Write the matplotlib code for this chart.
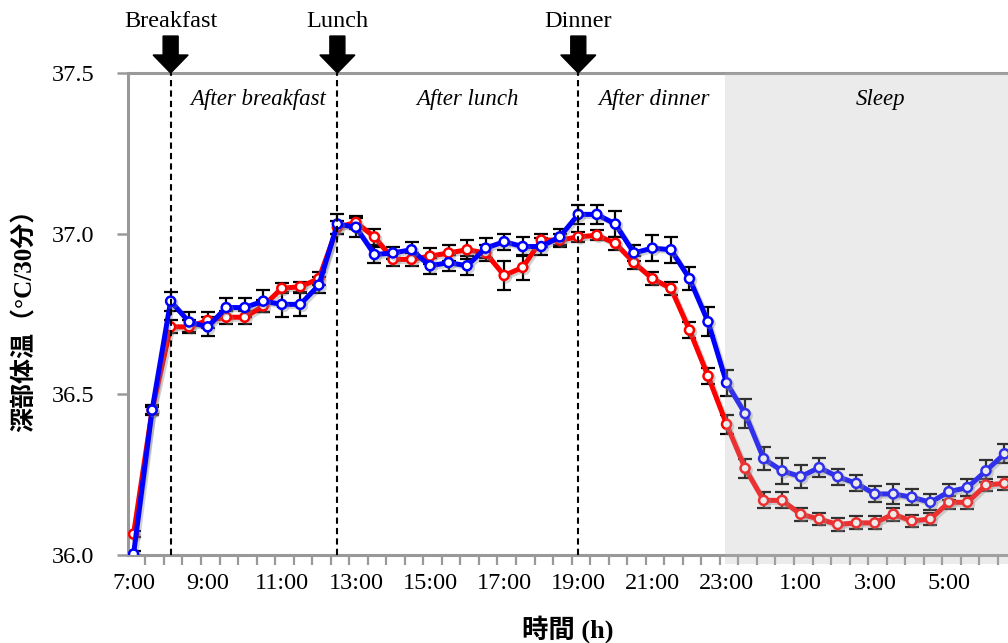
import matplotlib
matplotlib.use('Agg')
from matplotlib import pyplot as plt
from matplotlib import patheffects as pe
from matplotlib.patches import Rectangle
import numpy as np

# 30分ごとの深部体温 (7:00 - 6:30)
red_temp = [36.065, 36.45, 36.71, 36.71, 36.73, 36.74, 36.74, 36.775, 36.83, 36.835,
            36.86, 37.02, 37.035, 36.99, 36.92, 36.92, 36.93, 36.94, 36.95, 36.94,
            36.87, 36.895, 36.98, 36.98, 36.99, 36.995, 36.97, 36.91, 36.86, 36.83,
            36.70, 36.557, 36.407, 36.27, 36.17, 36.17, 36.127, 36.112, 36.095, 36.10,
            36.10, 36.127, 36.106, 36.112, 36.164, 36.164, 36.218, 36.223]
red_err = [0.01, 0.01, 0.02, 0.02, 0.025, 0.02, 0.02, 0.02, 0.015, 0.015,
           0.02, 0.02, 0.02, 0.025, 0.02, 0.02, 0.025, 0.025, 0.03, 0.025,
           0.045, 0.04, 0.02, 0.02, 0.015, 0.015, 0.02, 0.02, 0.02, 0.02,
           0.025, 0.025, 0.03, 0.03, 0.025, 0.025, 0.02, 0.02, 0.02, 0.02,
           0.02, 0.02, 0.02, 0.02, 0.02, 0.02, 0.02, 0.02]

blue_temp = [36.003, 36.451, 36.79, 36.725, 36.71, 36.77, 36.77, 36.79, 36.78, 36.78,
             36.84, 37.03, 37.02, 36.935, 36.94, 36.95, 36.90, 36.91, 36.90, 36.955,
             36.975, 36.96, 36.96, 36.99, 37.06, 37.06, 37.03, 36.94, 36.955, 36.95,
             36.86, 36.726, 36.536, 36.44, 36.30, 36.262, 36.244, 36.272, 36.244, 36.223,
             36.19, 36.19, 36.18, 36.164, 36.197, 36.21, 36.262, 36.315]
blue_err = [0.01, 0.015, 0.03, 0.03, 0.03, 0.03, 0.03, 0.035, 0.04, 0.035,
            0.025, 0.03, 0.03, 0.025, 0.02, 0.025, 0.025, 0.025, 0.03, 0.03,
            0.025, 0.03, 0.025, 0.025, 0.03, 0.03, 0.04, 0.025, 0.04, 0.04,
            0.035, 0.045, 0.04, 0.045, 0.035, 0.04, 0.035, 0.03, 0.025, 0.025,
            0.025, 0.03, 0.025, 0.025, 0.025, 0.025, 0.035, 0.03]

time_labels = ['7:00', '9:00', '11:00', '13:00', '15:00', '17:00',
               '19:00', '21:00', '23:00', '1:00', '3:00', '5:00']

meals = ['Breakfast', 'Lunch', 'Dinner']
meal_idx = [2, 11, 24]          # 8:00, 12:30, 19:00
periods = ['After breakfast', 'After lunch', 'After dinner', 'Sleep']
period_x = [6.75, 18.0, 28.1, 40.3]
sleep_start = 31.9

serif = 'Liberation Serif'
plt.rcParams['font.family'] = [serif, 'Noto Sans CJK JP', 'DejaVu Sans']

fig = plt.figure(figsize=(10.08, 6.43), dpi=100)
ax = fig.add_axes([128 / 1008, 1 - 555 / 643, 1 - 128 / 1008, (555 - 73) / 643])

x = np.arange(len(red_temp))
shadow = [pe.SimpleLineShadow(offset=(1.5, -1.5), shadow_color='gray', alpha=0.35), pe.Normal()]

ax.errorbar(x, red_temp, yerr=red_err, fmt='none', ecolor='black', elinewidth=1.6,
            capsize=5, capthick=1.6, zorder=2)
ax.errorbar(x, blue_temp, yerr=blue_err, fmt='none', ecolor='black', elinewidth=1.6,
            capsize=5, capthick=1.6, zorder=2)
ax.plot(x, red_temp, color='#ff0000', lw=3.6, marker='o', ms=6.5, mfc='white',
        mec='#ff0000', mew=1.8, zorder=3, path_effects=shadow)
ax.plot(x, blue_temp, color='#0000ff', lw=3.6, marker='o', ms=6.5, mfc='white',
        mec='#0000ff', mew=1.8, zorder=4, path_effects=shadow)

# sleep shading (drawn over the data, semi transparent)
ax.add_patch(Rectangle((sleep_start, -0.018), 60, 1.018,
                       transform=ax.get_xaxis_transform(), color='#b6b6b6',
                       alpha=0.27, lw=0, zorder=5, clip_on=False))

for i in meal_idx:
    ax.axvline(i, color='black', lw=1.5, dashes=(3, 2), zorder=6)

ax.set_xlim(-0.30, 47.19)
ax.set_ylim(36.0, 37.5)

# meal arrows
for name, i in zip(meals, meal_idx):
    ax.arrow(i, 37.615, 0, -0.115, width=0.81, head_width=1.89, head_length=0.056,
             length_includes_head=True, color='black', clip_on=False, zorder=7)
    ax.text(i, 37.659, name, ha='center', va='center', fontsize=17.5,
            family=serif, clip_on=False)

for name, px in zip(periods, period_x):
    ax.text(px, 37.416, name, ha='center', va='center', fontsize=16.5,
            family=serif, style='italic', zorder=8)

ax.set_yticks([36.0, 36.5, 37.0, 37.5])
ax.set_yticklabels(['36.0', '36.5', '37.0', '37.5'])
ax.set_xticks(np.arange(0, 45, 4))
ax.set_xticklabels(time_labels)
ax.set_xticks(np.arange(0.64, 47.2, 1), minor=True)

ax.tick_params(axis='y', which='major', direction='out', length=8, width=1.8,
               color='#999999', pad=16, labelsize=17.5)
ax.tick_params(axis='x', which='major', length=0, pad=13, labelsize=17.5)
ax.tick_params(axis='x', which='minor', direction='out', length=7, width=1.6,
               color='#999999')

for s in ['left', 'bottom', 'top']:
    ax.spines[s].set_color('#999999')
    ax.spines[s].set_linewidth(2.2)
ax.spines['right'].set_visible(False)

ax.set_ylabel('深部体温（°C/30分）', fontsize=18, fontweight='bold',
              family=[serif, 'Noto Sans CJK JP'])
ax.yaxis.set_label_coords(-0.1034, 0.5)
ax.set_xlabel('時間 (h)', fontsize=19, fontweight='bold',
              family=[serif, 'Noto Sans CJK JP'])
ax.xaxis.set_label_coords(0.5, -0.125)

plt.savefig('out.png', dpi=100)
